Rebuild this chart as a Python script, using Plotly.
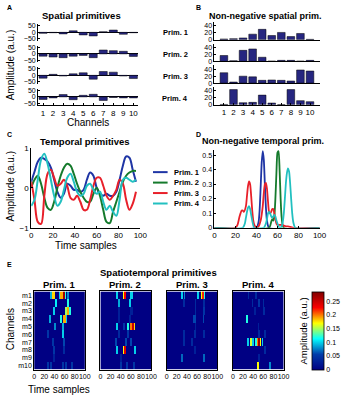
import plotly.graph_objects as go

W, H = 348, 400
def X(p): return p / W
def Y(p): return 1 - p / H

FONT = "Liberation Sans, Arial, sans-serif"
NAVY = "#262680"
COLORS = ["#1f35a5", "#157a2c", "#e8202a", "#22c0c0"]
PRIMS = ["Prim. 1", "Prim. 2", "Prim. 3", "Prim. 4"]

# ---------------- data ----------------
channels = list(range(1, 11))
spatial_p1 = [-8, -3, -12, 12, -20, -28, 5, 18, -15, -3]
spatial_p2 = [-18, -25, -30, -18, -12, -30, 30, 25, 20, -20]
spatial_p3 = [-22, 8, -5, 12, 20, -30, 30, 25, -5, -25]
spatial_p4 = [-20, -8, 18, -22, 12, 20, -28, -5, -8, -8]

nn_spatial_p1 = [2, 3, 5, 16, 30, 12, 21, 9, 18, 1]
nn_spatial_p2 = [17, 2, 32, 36, 12, 1, 3, 3, 1, 3]
nn_spatial_p3 = [30, 3, 20, 18, 8, 9, 8, 6, 38, 35]
nn_spatial_p4 = [1, 44, 6, 7, 28, 5, 0.5, 44, 12, 9]

t_c = [0, 3, 6, 9, 12, 15, 18, 21, 24, 27, 30, 33, 36, 39, 42, 45, 48, 51, 54,
       57, 60, 63, 66, 69, 72, 75, 78, 81, 84, 87, 90, 93, 96]
temporal_p1 = [0.15, 0.4, 0.65, 0.75, 0.72, 0.65, 0.5, 0.2, -0.1, -0.25, -0.15, 0.1, 0.05,
               -0.05, -0.05, -0.1, -0.05, 0.2, 0.38, 0.3, 0.0, -0.15, -0.2, -0.15, -0.2,
               -0.2, -0.1, 0.2, 0.55, 0.78, 0.75, 0.45, 0.15]
temporal_p2 = [0.0, 0.2, 0.3, 0.1, -0.25, -0.5, -0.55, -0.35, 0.0, 0.3, 0.5, 0.6, 0.55,
               0.35, 0.1, -0.1, -0.25, -0.35, -0.35, -0.15, 0.0, -0.2, -0.55, -0.85, -0.88,
               -0.6, -0.35, -0.1, 0.15, 0.3, 0.38, 0.42, 0.42]
temporal_p3 = [0.15, -0.3, -0.85, -0.9, -0.2, 0.35, 0.45, 0.25, 0.05, 0.1, 0.2, 0.05, -0.25,
               -0.3, -0.2, -0.35, -0.55, -0.55, -0.3, 0.05, 0.25, 0.25, 0.05, -0.2, -0.3,
               -0.2, -0.05, 0.2, 0.1, -0.3, -0.55, -0.4, -0.1]
temporal_p4 = [-0.45, -0.3, 0.2, 0.7, 0.85, 0.6, 0.2, -0.2, -0.45, -0.35, -0.05, 0.25, 0.35,
               0.15, -0.1, -0.2, -0.15, 0.05, 0.1, -0.05, -0.15, -0.1, -0.35, -0.55, -0.45,
               -0.6, -0.7, -0.3, 0.2, 0.25, 0.2, 0.15, 0.2]

nn_t_p1 = [0, 40, 42, 43, 44, 45, 46, 47, 48, 49, 50, 52, 100]
nn_temporal_p1 = [0, 0, 0.04, 0.12, 0.28, 0.45, 0.53, 0.47, 0.3, 0.14, 0.05, 0, 0]
nn_t_p2 = [0, 52, 54, 55, 56, 57, 58, 59, 60, 61, 62, 63, 64, 66, 100]
nn_temporal_p2 = [0, 0, 0.04, 0.06, 0.05, 0.08, 0.2, 0.38, 0.52, 0.53, 0.4, 0.2, 0.07, 0, 0]
nn_t_p3 = [0, 20, 22, 24, 26, 27, 28, 30, 31, 32, 33, 34, 35, 36, 37, 38, 40, 42, 44, 46,
           47, 48, 49, 50, 51, 52, 53, 54, 55, 56, 57, 58, 59, 60, 62, 64, 68, 70, 75, 100]
nn_temporal_p3 = [0, 0, 0.02, 0.08, 0.12, 0.12, 0.11, 0.15, 0.22, 0.29, 0.32, 0.3, 0.22,
                  0.12, 0.05, 0.02, 0, 0.01, 0.05, 0.15, 0.24, 0.3, 0.31, 0.27, 0.18, 0.11,
                  0.1, 0.11, 0.13, 0.13, 0.1, 0.06, 0.03, 0.02, 0.02, 0.02, 0.01, 0.01, 0, 0]
nn_t_p4 = [0, 27, 29, 30, 31, 32, 33, 34, 35, 36, 38, 47, 49, 50, 51, 52, 53, 54, 55, 56,
           57, 58, 59, 60, 61, 62, 64, 65, 66, 67, 68, 69, 70, 71, 72, 73, 74, 75, 77, 100]
nn_temporal_p4 = [0, 0, 0.03, 0.07, 0.11, 0.14, 0.15, 0.13, 0.09, 0.05, 0, 0, 0.03, 0.06,
                  0.1, 0.11, 0.1, 0.08, 0.07, 0.08, 0.09, 0.08, 0.05, 0.03, 0.01, 0, 0.01,
                  0.04, 0.1, 0.2, 0.31, 0.38, 0.41, 0.39, 0.31, 0.2, 0.1, 0.04, 0, 0]

channel_labels = ["m1", "m2", "m3", "m4", "m5", "m6", "m7", "m8", "m9", "m10"]
n_samples = 100
# spatiotemporal patches: (channel, first sample, last sample, amplitude)
st_p1 = [(1, 33, 35, 0.09), (1, 36, 40, 0.18), (1, 49, 51, 0.1), (1, 52, 56, 0.19),
         (1, 58, 61, 0.27), (1, 62, 63, 0.12), (1, 66, 68, 0.08),
         (2, 42, 45, 0.11), (2, 66, 69, 0.12),
         (3, 38, 41, 0.1), (3, 62, 65, 0.15), (3, 66, 69, 0.19), (3, 70, 72, 0.12),
         (4, 31, 34, 0.09), (4, 51, 54, 0.12), (4, 58, 62, 0.19), (4, 63, 64, 0.1),
         (5, 40, 43, 0.08), (5, 56, 59, 0.09),
         (6, 26, 29, 0.05), (6, 55, 58, 0.1),
         (7, 36, 39, 0.05), (7, 58, 61, 0.06),
         (8, 38, 41, 0.05), (8, 57, 60, 0.04),
         (9, 38, 41, 0.03),
         (10, 26, 29, 0.05), (10, 32, 35, 0.05), (10, 55, 58, 0.05), (10, 61, 64, 0.05),
         (10, 73, 76, 0.05)]
st_p2 = [(1, 31, 34, 0.1), (1, 46, 47, 0.17), (1, 48, 50, 0.23), (1, 60, 63, 0.1),
         (2, 35, 38, 0.09), (2, 58, 61, 0.1),
         (3, 36, 39, 0.03), (3, 60, 63, 0.03),
         (4, 35, 38, 0.03), (4, 58, 61, 0.03),
         (5, 31, 34, 0.1), (5, 45, 48, 0.05), (5, 54, 57, 0.12), (5, 60, 62, 0.2),
         (5, 63, 65, 0.25), (5, 66, 68, 0.18),
         (6, 36, 39, 0.04), (6, 54, 57, 0.05),
         (7, 29, 32, 0.06), (7, 49, 52, 0.06), (7, 59, 62, 0.06),
         (8, 31, 34, 0.1), (8, 46, 47, 0.17), (8, 48, 50, 0.24), (8, 66, 69, 0.1),
         (9, 40, 43, 0.03),
         (10, 40, 43, 0.05), (10, 51, 54, 0.05), (10, 65, 68, 0.05)]
st_p3 = [(1, 30, 33, 0.1), (1, 35, 37, 0.08), (1, 61, 64, 0.1), (1, 68, 70, 0.17),
         (1, 71, 73, 0.22), (1, 74, 75, 0.12),
         (2, 34, 36, 0.04), (2, 56, 58, 0.04), (2, 73, 75, 0.04),
         (3, 56, 58, 0.04), (3, 73, 75, 0.05),
         (4, 53, 57, 0.06), (4, 72, 74, 0.06),
         (5, 56, 58, 0.03),
         (6, 34, 36, 0.04), (6, 55, 57, 0.04), (6, 73, 75, 0.04),
         (7, 34, 36, 0.04), (7, 49, 51, 0.04),
         (8, 55, 57, 0.03),
         (9, 29, 32, 0.07), (9, 72, 75, 0.07)]
st_p4 = [(1, 30, 32, 0.04), (1, 45, 47, 0.04),
         (2, 38, 40, 0.04), (2, 51, 53, 0.05), (2, 60, 62, 0.04),
         (3, 43, 45, 0.03), (3, 61, 63, 0.04),
         (4, 26, 30, 0.12),
         (5, 50, 52, 0.03),
         (6, 51, 53, 0.04), (6, 62, 64, 0.04),
         (7, 29, 32, 0.1), (7, 34, 37, 0.16), (7, 38, 41, 0.1), (7, 45, 47, 0.12),
         (7, 48, 50, 0.2), (7, 51, 53, 0.27), (7, 54, 56, 0.17), (7, 58, 60, 0.1),
         (8, 62, 64, 0.04),
         (9, 51, 53, 0.03),
         (10, 49, 52, 0.17), (10, 71, 74, 0.08)]

# ---------------- figure ----------------
fig = go.Figure()
layout = {}
tickfont = dict(family=FONT, size=8, color="black")
smallfont = dict(family=FONT, size=7, color="black")

def axis_common():
    return dict(showgrid=False, linecolor="black", linewidth=0.8, tickcolor="black",
                ticks="inside", ticklen=2, tickfont=tickfont, zeroline=False, tickangle=0)

# Panel A
for k, vals in enumerate([spatial_p1, spatial_p2, spatial_p3, spatial_p4]):
    i = k + 1
    c = 29 + 22 * k
    fig.add_trace(go.Bar(x=channels, y=vals, xaxis=f"x{i}", yaxis=f"y{i}",
                         marker=dict(color=NAVY, line=dict(color="black", width=0.5)),
                         width=0.8, showlegend=False))
    xa = axis_common()
    xa.update(domain=[X(37), X(140)], range=[0.5, 10.5], anchor=f"y{i}",
              tickvals=channels, showline=(k == 3), showticklabels=(k == 3),
              ticks="inside" if k == 3 else "")
    ya = axis_common()
    ya.update(domain=[Y(c + 8.5), Y(c - 8.5)], range=[-65, 65], anchor=f"x{i}",
              tickvals=[-50, 0, 50], showline=True, zeroline=True,
              zerolinecolor="black", zerolinewidth=0.8, tickfont=smallfont)
    layout[f"xaxis{i}"] = xa
    layout[f"yaxis{i}"] = ya

# Panel B
for k, vals in enumerate([nn_spatial_p1, nn_spatial_p2, nn_spatial_p3, nn_spatial_p4]):
    i = k + 5
    b = 36.5 + 22.2 * k
    fig.add_trace(go.Bar(x=channels, y=vals, xaxis=f"x{i}", yaxis=f"y{i}",
                         marker=dict(color=NAVY, line=dict(color="black", width=0.5)),
                         width=0.8, showlegend=False))
    xa = axis_common()
    xa.update(domain=[X(218), X(326)], range=[0, 11], anchor=f"y{i}",
              tickvals=channels, showline=True, showticklabels=(k == 3),
              ticks="inside" if k == 3 else "")
    ya = axis_common()
    ya.update(domain=[Y(b), Y(b - 18)], range=[0, 51], anchor=f"x{i}",
              tickvals=[0, 20, 40], showline=True, tickfont=smallfont)
    layout[f"xaxis{i}"] = xa
    layout[f"yaxis{i}"] = ya

# Panel C
for k, vals in enumerate([temporal_p1, temporal_p2, temporal_p3, temporal_p4]):
    fig.add_trace(go.Scatter(x=t_c, y=vals, mode="lines", xaxis="x9", yaxis="y9",
                             line=dict(color=COLORS[k], width=2, shape="spline", smoothing=1.0),
                             showlegend=False))
xa = axis_common(); xa.update(domain=[X(30), X(142)], range=[0, 100], anchor="y9",
                              tickvals=[0, 20, 40, 60, 80, 100], showline=True)
ya = axis_common(); ya.update(domain=[Y(229), Y(147)], range=[-1, 1], anchor="x9",
                              tickvals=[-1, 0, 1], showline=True)
layout["xaxis9"] = xa; layout["yaxis9"] = ya

# Panel D
for k, (tt, vals) in enumerate([(nn_t_p1, nn_temporal_p1), (nn_t_p2, nn_temporal_p2),
                                (nn_t_p3, nn_temporal_p3), (nn_t_p4, nn_temporal_p4)]):
    fig.add_trace(go.Scatter(x=tt, y=vals, mode="lines", xaxis="x10", yaxis="y10",
                             line=dict(color=COLORS[k], width=1.8, shape="spline", smoothing=0.6),
                             showlegend=False))
xa = axis_common(); xa.update(domain=[X(218), X(326)], range=[0, 100], anchor="y10",
                              tickvals=[0, 20, 40, 60, 80, 100], showline=True)
ya = axis_common(); ya.update(domain=[Y(229), Y(149)], range=[0, 0.54], anchor="x10",
                              tickvals=[0, 0.1, 0.2, 0.3, 0.4, 0.5], showline=True,
                              tickfont=smallfont)
layout["xaxis10"] = xa; layout["yaxis10"] = ya

# Panel E
def build(patches):
    z = [[0.0] * n_samples for _ in range(10)]
    for ch, a, b, v in patches:
        for t in range(a, b + 1):
            z[ch - 1][t - 1] = v
    return z

lefts = [33, 101, 169, 237]
for k, patches in enumerate([st_p1, st_p2, st_p3, st_p4]):
    i = k + 11
    hm = dict(z=build(patches), x0=0.5, dx=1, y=channel_labels, xaxis=f"x{i}", yaxis=f"y{i}",
              colorscale="Jet", zmin=0, zmax=0.285, showscale=(k == 0))
    if k == 0:
        hm["colorbar"] = dict(x=X(318), xanchor="left", y=Y(374), yanchor="bottom",
                              len=80 / H, lenmode="fraction", thickness=12,
                              thicknessmode="pixels", xpad=0, ypad=0,
                              tickvals=[0, 0.05, 0.1, 0.15, 0.2, 0.25],
                              ticktext=["0", "0.05", "0.1", "0.15", "0.2", "0.25"],
                              tickfont=smallfont, outlinecolor="black", outlinewidth=0.8,
                              ticks="")
    fig.add_trace(go.Heatmap(**hm))
    xa = axis_common(); xa.update(domain=[X(lefts[k]), X(lefts[k] + 52)], range=[0, 100],
                                  anchor=f"y{i}", tickvals=[0, 20, 40, 60, 80, 100],
                                  ticktext=["0", "20", "40", "60", "80", "100"],
                                  showline=True, mirror=True, ticks="", tickfont=smallfont)
    ya = axis_common(); ya.update(domain=[Y(374), Y(294)], anchor=f"x{i}",
                                  autorange="reversed", showline=True, mirror=True,
                                  tickmode="array", tickvals=channel_labels,
                                  showticklabels=(k == 0), ticks="", tickfont=smallfont)
    layout[f"xaxis{i}"] = xa; layout[f"yaxis{i}"] = ya

# ---------------- text ----------------
ann = []
def txt(s, x, y, size=8, bold=False, angle=0, xanchor="center", yanchor="middle"):
    ann.append(dict(text=f"<b>{s}</b>" if bold else s, x=X(x), y=Y(y), xref="paper",
                    yref="paper", showarrow=False, textangle=angle, xanchor=xanchor,
                    yanchor=yanchor, font=dict(family=FONT, size=size, color="black")))

txt("A", 3, 4, 7, True, xanchor="left")
txt("B", 197, 4, 7, True, xanchor="left")
txt("C", 3, 133, 7, True, xanchor="left")
txt("D", 197, 133, 7, True, xanchor="left")
txt("E", 3, 266, 7, True, xanchor="left")
txt("Spatial primitives", 82, 12, 9.5, True)
txt("Non-negative spatial prim.", 271, 12, 9, True)
txt("Temporal primitives", 85, 141, 9.5, True)
txt("Non-negative temporal prim.", 268, 140, 9, True)
txt("Spatiotemporal primitives", 161, 275, 9.5, True)
for k, p in enumerate(PRIMS):
    txt(p, 178, 29 + 22.5 * k, 7.5, True, xanchor="center")
    txt(p, [58, 126, 195, 263][k], 287, 9.5, True)
txt("Amplitude (a.u.)", 9, 62, 10, angle=-90)
txt("Channels", 88, 121, 10)
txt("Amplitude (a.u.)", 9, 186, 10, angle=-90)
txt("Time samples", 86, 247, 10)
txt("Channels", 9, 333, 10, angle=-90)
txt("Time samples", 58, 394, 10)
txt("Amplitude (a.u.)", 310, 334, 9.5, angle=-90)

shapes = []
for k, p in enumerate(PRIMS):
    yy = 172 + 10.7 * k
    shapes.append(dict(type="line", xref="paper", yref="paper", x0=X(155), x1=X(170),
                       y0=Y(yy), y1=Y(yy), line=dict(color=COLORS[k], width=2)))
    txt(p, 174, yy, 7.5, True, xanchor="left")

fig.update_layout(width=W, height=H, margin=dict(l=0, r=0, t=0, b=0),
                  paper_bgcolor="white", plot_bgcolor="white", showlegend=False,
                  annotations=ann, shapes=shapes, bargap=0.2, **layout)
fig.write_html("out.html", config={"displayModeBar": False},
               post_script="document.body.style.margin='0px';")
